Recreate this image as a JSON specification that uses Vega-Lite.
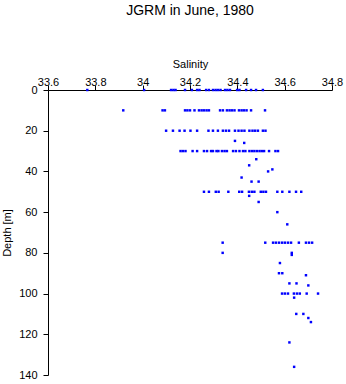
{
  "$schema": "https://vega.github.io/schema/vega-lite/v6.json",
  "width": 284,
  "height": 285,
  "autosize": {"type": "none"},
  "padding": {"left": 48, "top": 90, "right": 14, "bottom": 9},
  "background": "white",
  "title": {"text": "JGRM in June, 1980", "font": "Liberation Sans", "fontSize": 14, "fontWeight": "normal", "color": "black", "anchor": "middle", "frame": "group", "offset": 40},
  "config": {
    "view": {"stroke": null},
    "axis": {"domainColor": "black", "tickColor": "black", "labelColor": "black", "titleColor": "black", "labelFont": "Liberation Sans", "titleFont": "Liberation Sans", "labelFontSize": 11, "titleFontSize": 11, "titleFontWeight": "normal", "tickSize": 5, "grid": false, "domainWidth": 1, "tickWidth": 1}
  },
  "data": {"values": [
    {"s": 33.766, "d": 0}, {"s": 34.006, "d": 0}, {"s": 34.120, "d": 0}, {"s": 34.130, "d": 0}, {"s": 34.139, "d": 0}, {"s": 34.179, "d": 0}, {"s": 34.208, "d": 0}, {"s": 34.230, "d": 0}, {"s": 34.240, "d": 0}, {"s": 34.268, "d": 0}, {"s": 34.280, "d": 0}, {"s": 34.297, "d": 0}, {"s": 34.308, "d": 0}, {"s": 34.318, "d": 0}, {"s": 34.329, "d": 0}, {"s": 34.348, "d": 0}, {"s": 34.358, "d": 0}, {"s": 34.369, "d": 0}, {"s": 34.399, "d": 0}, {"s": 34.409, "d": 0}, {"s": 34.437, "d": 0}, {"s": 34.458, "d": 0}, {"s": 34.479, "d": 0}, {"s": 34.508, "d": 0},
    {"s": 33.918, "d": 10}, {"s": 34.084, "d": 10}, {"s": 34.094, "d": 10}, {"s": 34.179, "d": 10}, {"s": 34.189, "d": 10}, {"s": 34.200, "d": 10}, {"s": 34.219, "d": 10}, {"s": 34.238, "d": 10}, {"s": 34.249, "d": 10}, {"s": 34.259, "d": 10}, {"s": 34.270, "d": 10}, {"s": 34.280, "d": 10}, {"s": 34.327, "d": 10}, {"s": 34.339, "d": 10}, {"s": 34.356, "d": 10}, {"s": 34.367, "d": 10}, {"s": 34.377, "d": 10}, {"s": 34.388, "d": 10}, {"s": 34.407, "d": 10}, {"s": 34.418, "d": 10}, {"s": 34.428, "d": 10}, {"s": 34.439, "d": 10}, {"s": 34.458, "d": 10}, {"s": 34.517, "d": 10},
    {"s": 34.099, "d": 20}, {"s": 34.128, "d": 20}, {"s": 34.156, "d": 20}, {"s": 34.177, "d": 20}, {"s": 34.202, "d": 20}, {"s": 34.230, "d": 20}, {"s": 34.278, "d": 20}, {"s": 34.297, "d": 20}, {"s": 34.318, "d": 20}, {"s": 34.339, "d": 20}, {"s": 34.352, "d": 20}, {"s": 34.365, "d": 20}, {"s": 34.390, "d": 20}, {"s": 34.405, "d": 20}, {"s": 34.418, "d": 20}, {"s": 34.430, "d": 20}, {"s": 34.451, "d": 20}, {"s": 34.464, "d": 20}, {"s": 34.475, "d": 20}, {"s": 34.487, "d": 20}, {"s": 34.508, "d": 20}, {"s": 34.519, "d": 20},
    {"s": 34.390, "d": 25}, {"s": 34.429, "d": 26},
    {"s": 34.160, "d": 30}, {"s": 34.170, "d": 30}, {"s": 34.181, "d": 30}, {"s": 34.211, "d": 30}, {"s": 34.230, "d": 30}, {"s": 34.259, "d": 30}, {"s": 34.272, "d": 30}, {"s": 34.289, "d": 30}, {"s": 34.297, "d": 30}, {"s": 34.312, "d": 30}, {"s": 34.320, "d": 30}, {"s": 34.335, "d": 30}, {"s": 34.346, "d": 30}, {"s": 34.356, "d": 30}, {"s": 34.382, "d": 30}, {"s": 34.394, "d": 30}, {"s": 34.409, "d": 30}, {"s": 34.424, "d": 30}, {"s": 34.434, "d": 30}, {"s": 34.451, "d": 30}, {"s": 34.462, "d": 30}, {"s": 34.472, "d": 30}, {"s": 34.483, "d": 30}, {"s": 34.494, "d": 30}, {"s": 34.504, "d": 30}, {"s": 34.513, "d": 30}, {"s": 34.534, "d": 30}, {"s": 34.561, "d": 30}, {"s": 34.572, "d": 30},
    {"s": 34.480, "d": 34}, {"s": 34.450, "d": 37}, {"s": 34.548, "d": 39}, {"s": 34.530, "d": 40}, {"s": 34.418, "d": 43}, {"s": 34.460, "d": 45}, {"s": 34.490, "d": 45},
    {"s": 34.259, "d": 50}, {"s": 34.280, "d": 50}, {"s": 34.309, "d": 50}, {"s": 34.321, "d": 50}, {"s": 34.362, "d": 50}, {"s": 34.408, "d": 50}, {"s": 34.420, "d": 50}, {"s": 34.449, "d": 50}, {"s": 34.461, "d": 50}, {"s": 34.472, "d": 50}, {"s": 34.499, "d": 50}, {"s": 34.510, "d": 50}, {"s": 34.521, "d": 50}, {"s": 34.569, "d": 50}, {"s": 34.590, "d": 50}, {"s": 34.620, "d": 50}, {"s": 34.648, "d": 50}, {"s": 34.670, "d": 50},
    {"s": 34.450, "d": 52}, {"s": 34.490, "d": 55}, {"s": 34.569, "d": 60}, {"s": 34.611, "d": 66},
    {"s": 34.338, "d": 75}, {"s": 34.518, "d": 75}, {"s": 34.551, "d": 75}, {"s": 34.563, "d": 75}, {"s": 34.576, "d": 75}, {"s": 34.589, "d": 75}, {"s": 34.601, "d": 75}, {"s": 34.614, "d": 75}, {"s": 34.627, "d": 75}, {"s": 34.660, "d": 75}, {"s": 34.690, "d": 75}, {"s": 34.703, "d": 75}, {"s": 34.716, "d": 75},
    {"s": 34.338, "d": 80}, {"s": 34.630, "d": 80}, {"s": 34.630, "d": 81}, {"s": 34.580, "d": 85}, {"s": 34.576, "d": 90}, {"s": 34.590, "d": 90}, {"s": 34.690, "d": 91}, {"s": 34.620, "d": 95}, {"s": 34.650, "d": 95}, {"s": 34.700, "d": 96},
    {"s": 34.589, "d": 100}, {"s": 34.601, "d": 100}, {"s": 34.614, "d": 100}, {"s": 34.639, "d": 100}, {"s": 34.652, "d": 100}, {"s": 34.664, "d": 100}, {"s": 34.693, "d": 100}, {"s": 34.741, "d": 100},
    {"s": 34.640, "d": 102}, {"s": 34.649, "d": 110}, {"s": 34.679, "d": 110}, {"s": 34.700, "d": 112}, {"s": 34.711, "d": 114}, {"s": 34.620, "d": 124}, {"s": 34.640, "d": 136}
  ]},
  "mark": {"type": "point", "shape": "square", "filled": true, "size": 6, "color": "#0000ff", "opacity": 1},
  "encoding": {
    "x": {"field": "s", "type": "quantitative", "scale": {"domain": [33.6, 34.8], "nice": false, "zero": false},
      "axis": {"orient": "top", "title": "Salinity", "values": [33.6, 33.8, 34, 34.2, 34.4, 34.6, 34.8], "format": "~g", "labelPadding": -2, "titlePadding": 7, "labelFlush": false}},
    "y": {"field": "d", "type": "quantitative", "scale": {"domain": [0, 140], "reverse": true, "nice": false},
      "axis": {"orient": "left", "title": "Depth [m]", "values": [0, 20, 40, 60, 80, 100, 120, 140], "labelPadding": 6, "titlePadding": 6, "labelFlush": false}}
  }
}
